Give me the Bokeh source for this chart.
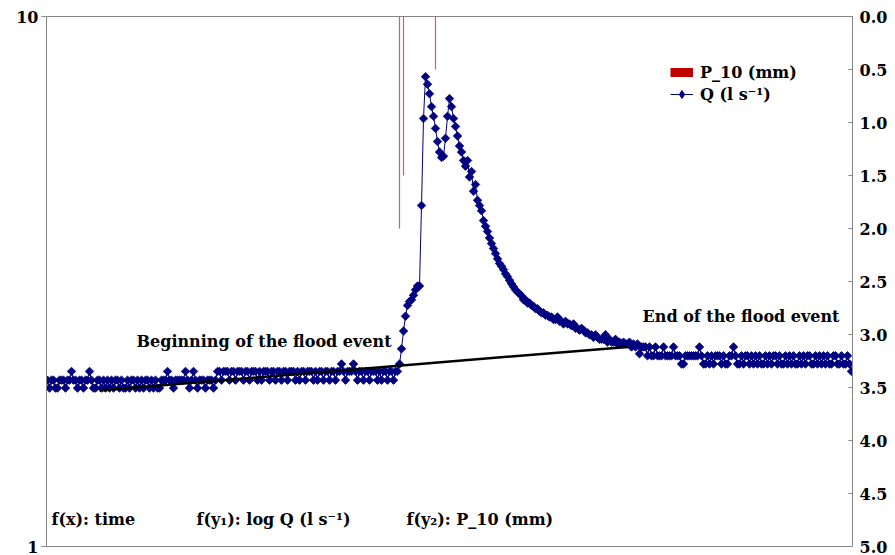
import math
from bokeh.plotting import figure
from bokeh.models import (Range1d, LinearAxis, LinearScale, FixedTicker, Legend, LegendItem,
                          Label, PrintfTickFormatter, CustomJSTickFormatter)
from bokeh.embed import file_html
from bokeh.resources import INLINE

# ---------------- data ----------------
# discharge Q (l s-1), one value per time step
q_base_early = [2.06,1.99,2.06,2.06,1.99,1.99,2.06,2.06,2.06,1.99,
                2.06,2.06,2.14,2.06,2.06,1.99,2.06,2.06,1.99,2.06,
                2.06,2.14,2.06,1.99,1.99,2.06,2.06,1.99,2.06,1.99,
                2.06,1.99,2.06,1.99,2.06,2.06,1.99,2.06,1.99,1.99,
                2.06,1.99,2.06,2.06,1.99,2.06,1.99,2.06,1.99,2.06,
                2.06,1.99,2.06,1.99,2.06,1.99,1.99,2.06,2.06,2.06,
                2.14,2.06,2.06,1.99,2.06,2.06,2.06,2.06,2.06,2.14,
                2.06,1.99,2.06,2.14,2.06,1.99,2.06,2.06,2.06,1.99,
                2.06,2.06,2.06,1.99,2.06]
q_base_late = [2.14,2.14,2.06,2.14,2.14,2.14,2.06,2.14,2.14,2.06,
               2.14,2.14,2.14,2.06,2.14,2.14,2.06,2.14,2.14,2.14,
               2.06,2.14,2.06,2.14,2.14,2.14,2.06,2.14,2.14,2.06,
               2.14,2.14,2.06,2.14,2.14,2.06,2.14,2.14,2.14,2.06,
               2.14,2.06,2.14,2.14,2.06,2.14,2.14,2.14,2.06,2.14,
               2.06,2.14,2.14,2.06,2.14,2.14,2.06,2.14,2.14,2.06,
               2.14,2.14,2.21,2.14,2.06,2.14,2.14,2.14,2.21,2.14,
               2.06,2.14,2.14,2.06,2.14,2.14,2.06,2.14,2.14,2.14,
               2.06,2.14,2.06,2.14,2.14,2.06,2.14,2.14,2.06,2.14,
               2.14]
q_flood = [2.21,2.36,2.55,2.72,2.85,2.90,2.92,2.98,3.05,3.10,3.10,
           4.40,6.42,7.70,7.45,7.15,6.76,6.48,6.15,5.81,5.55,
           5.42,5.45,5.89,6.48,7.00,6.76,6.42,6.20,5.95,5.70,
           5.55,5.35,5.22,5.35,4.98,5.10,4.68,4.82,4.50,4.40,
           4.30,4.12,4.02,3.93,3.82,3.73,3.65,3.57,3.49,3.42,
           3.38,3.33,3.27,3.23,3.18,3.13,3.09,3.05,3.02,3.00,
           2.97,2.92,2.92,2.88,2.88,2.85,2.84,2.81,2.81,2.78,
           2.76,2.76,2.73,2.73,2.71,2.71,2.68,2.68,2.71,2.66,
           2.66,2.63,2.66,2.63,2.63,2.61,2.63,2.58,2.58,2.56,
           2.58,2.56,2.53,2.53,2.51,2.51,2.48,2.51,2.48,2.46,
           2.46,2.46,2.51,2.43,2.46,2.43,2.43,2.46,2.41,2.43,
           2.41,2.43,2.41,2.41,2.43,2.38,2.41,2.38,2.41,2.31,
           2.38,2.38]
q_tail_a = [2.38,2.29,2.38,2.29,2.29,2.38,2.29,2.29,2.29,2.38,
            2.29,2.29,2.29,2.29,2.38,2.29,2.29,2.29,2.21,2.21,
            2.29,2.29,2.29,2.29,2.29,2.29,2.29,2.38,2.29,2.21,
            2.21,2.29,2.21,2.29,2.21,2.29,2.29]
q_tail_b = [2.29,2.21,2.29,2.21,2.21,2.29,2.29,2.38,2.29,2.21,
            2.21,2.29,2.21,2.29,2.29,2.21,2.29,2.21,2.29,2.21,
            2.29,2.21,2.21,2.29,2.21,2.29,2.21,2.29,2.29,2.21,
            2.29,2.21,2.21,2.29,2.21,2.29,2.21,2.29,2.21,2.21,
            2.29,2.21,2.29,2.21,2.29,2.29,2.21,2.21,2.29,2.21,
            2.29,2.21,2.29,2.21,2.29,2.21,2.21,2.29,2.29,2.21,
            2.21,2.29,2.21,2.21,2.29,2.21,2.14]

# 10-minute precipitation P_10 (mm): time step and depth
p10_time = [176, 178, 194]
p10_mm = [2.0, 1.5, 0.5]

# baseflow separation line (beginning -> end of the flood event)
sep_time = [26, 290]
sep_q = [1.97, 2.38]

q_ticks = [1, 10]
rain_ticks = [0.0, 0.5, 1.0, 1.5, 2.0, 2.5, 3.0, 3.5, 4.0, 4.5, 5.0]

# ---------------- figure ----------------
q = q_base_early + q_base_late + q_flood + q_tail_a + q_tail_b
N = len(q)
t = list(range(N))

FONT = "DejaVu Serif"
GREY = "#868686"
FS = "16px"
NAVY = "#000080"

p = figure(width=895, height=555, y_axis_type="log",
           x_range=Range1d(-0.5, N - 0.5), y_range=Range1d(1, 10),
           output_backend="svg", toolbar_location=None,
           min_border_left=46, min_border_right=43,
           min_border_top=16, min_border_bottom=9)
p.extra_y_ranges = {"rain": Range1d(start=5, end=0)}
p.extra_y_scales = {"rain": LinearScale()}
p.xaxis.visible = False
p.xgrid.visible = False
p.ygrid.visible = False
p.outline_line_color = GREY
p.outline_line_width = 1
p.background_fill_color = "white"
p.border_fill_color = "white"

yl = p.yaxis[0]
yl.ticker = FixedTicker(ticks=q_ticks, minor_ticks=[])
yl.formatter = CustomJSTickFormatter(code="return tick.toFixed(0);")
yl.axis_line_color = GREY
yl.major_tick_line_color = GREY
yl.major_tick_out = 5
yl.major_tick_in = 0
yl.minor_tick_line_color = None
yl.major_label_standoff = 3
yl.major_label_text_font = FONT
yl.major_label_text_font_style = "bold"
yl.major_label_text_font_size = FS
yl.major_label_text_color = "black"

ra = LinearAxis(y_range_name="rain", ticker=FixedTicker(ticks=rain_ticks, minor_ticks=[]),
                formatter=PrintfTickFormatter(format="%.1f"))
ra.axis_line_color = GREY
ra.major_tick_line_color = GREY
ra.major_tick_out = 0
ra.major_tick_in = 4
ra.minor_tick_line_color = None
ra.major_label_standoff = 7
ra.major_label_text_font = FONT
ra.major_label_text_font_style = "bold"
ra.major_label_text_font_size = FS
ra.major_label_text_color = "black"
p.add_layout(ra, "right")

# precipitation bars hanging from the top (secondary, inverted axis)
bars = p.segment(x0=p10_time, y0=[0] * len(p10_time), x1=p10_time, y1=p10_mm,
                 y_range_name="rain", line_color="#C04848", line_width=1.2, line_alpha=0.85)
# legend keys (not drawn in the plot area)
rain_key = p.line(x=[p10_time[0]], y=[float("nan")], y_range_name="rain",
                  line_color="#C00000", line_width=9, line_cap="butt")
q_key = p.scatter(x=[p10_time[0]], y=[float("nan")], marker="diamond", size=8,
                  fill_color=NAVY, line_color=NAVY)

# discharge
q_line = p.line(t, q, line_color=NAVY, line_width=1)
q_pts = p.scatter(t, q, marker="square", angle=math.pi / 4, size=6,
                  fill_color=NAVY, line_color=NAVY, line_width=0.8)

# separation line
p.line(sep_time, sep_q, line_color="black", line_width=2.5)

legend = Legend(items=[LegendItem(label="P_10 (mm)", renderers=[rain_key]),
                       LegendItem(label="Q (l s\u207b\u00b9)", renderers=[q_line, q_key])],
                location=(624, 442), orientation="vertical",
                border_line_color=None, background_fill_alpha=0,
                padding=0, margin=0, spacing=2,
                glyph_width=23, glyph_height=20, label_height=20,
                label_standoff=7,
                label_text_font=FONT, label_text_font_style="bold",
                label_text_font_size=FS, label_text_color="black")
p.add_layout(legend)

def note(x, y, text, align="left"):
    p.add_layout(Label(x=x, y=y, text=text, text_align=align, text_baseline="middle",
                       text_font=FONT, text_font_style="bold",
                       text_font_size=FS, text_color="black"))

note(44.5, 2.44, "Beginning of the flood event")
note(396, 2.72, "End of the flood event", align="right")
note(2, 1.125, "f(x): time")
note(74.5, 1.125, "f(y\u2081): log Q (l s\u207b\u00b9)")
note(179.5, 1.125, "f(y\u2082): P_10 (mm)")

open("out.html", "w").write(file_html(p, INLINE))
